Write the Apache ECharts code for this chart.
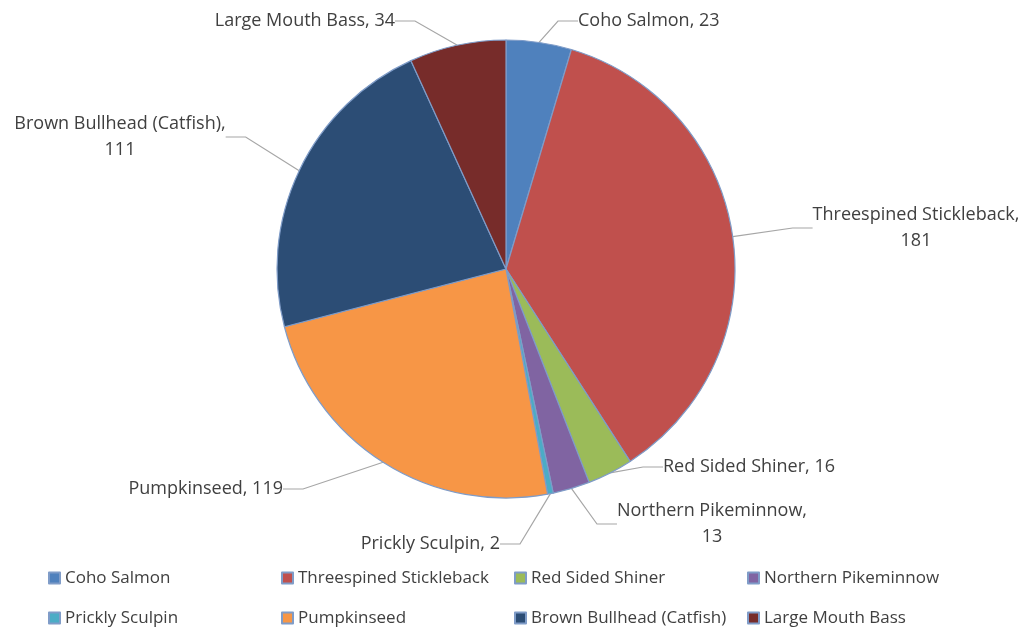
<!DOCTYPE html>
<html>
<head>
<meta charset="utf-8">
<script src="https://cdn.jsdelivr.net/npm/echarts@6/dist/echarts.min.js"></script>
<style>html,body{margin:0;padding:0;background:#fff;}#c{width:1023px;height:631px;}</style>
</head>
<body>
<div id="c"></div>
<script>
const categories = ['Coho Salmon','Threespined Stickleback','Red Sided Shiner','Northern Pikeminnow','Prickly Sculpin','Pumpkinseed','Brown Bullhead (Catfish)','Large Mouth Bass'];
const values = [23,181,16,13,2,119,111,34];
const colors = ['#4F81BD','#C0504D','#9BBB59','#8064A2','#4BACC6','#F79646','#2C4D75','#772C2A'];

// label placement (text anchor) per slice, like the hand-placed Excel labels
const labelSpots = [
  {x:578, y:21, align:'left'},
  {x:916, y:228, align:'center'},
  {x:663, y:467, align:'left'},
  {x:712, y:524, align:'center'},
  {x:500, y:544, align:'right'},
  {x:283, y:489, align:'right'},
  {x:120, y:137, align:'center'},
  {x:395, y:21, align:'right'}
];

const chart = echarts.init(document.getElementById('c'), null, {renderer:'canvas'});
const font = 'Open Sans';
chart.setOption({
  backgroundColor:'#fff',
  color: colors,
  animation:false,
  legend:{
    left:43, top:557, width:980,
    itemWidth:11, itemHeight:11, itemGap:8,
    icon:'rect',
    textStyle:{fontFamily:font, fontSize:17, color:'#404040', width:208, lineHeight:32},
    data: categories
  },
  series:[{
    type:'pie',
    center:[506,269], radius:229,
    startAngle:90, clockwise:true,
    itemStyle:{borderColor:'#7f9cc8', borderWidth:1.2},
    label:{
      show:true, fontFamily:font, fontSize:18, color:'#404040', lineHeight:26, align:'center',
      formatter: p => p.name.length > 18 ? p.name + ',\n' + p.value : p.name + ', ' + p.value
    },
    labelLine:{show:true, length:20, length2:20, lineStyle:{color:'#a6a6a6', width:1.2}},
    labelLayout: function(params){
      const s = labelSpots[params.dataIndex];
      return {x:s.x, y:s.y, align:s.align, verticalAlign:'middle'};
    },
    data: categories.map((n,i)=>({name:n, value:values[i]}))
  }]
});
</script>
</body>
</html>
